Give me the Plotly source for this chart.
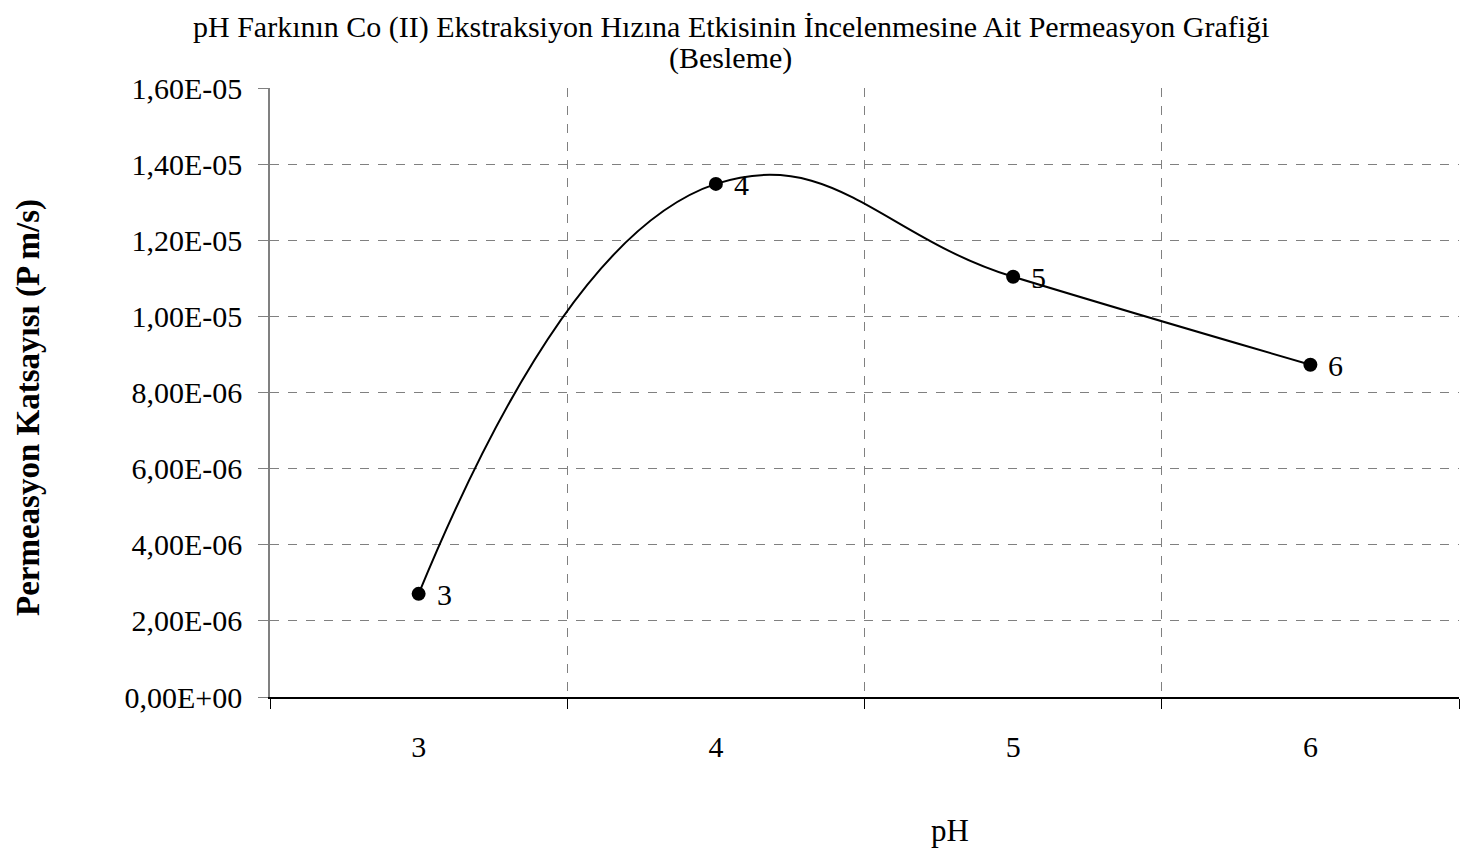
import plotly.graph_objects as go

ph_categories = ["3", "4", "5", "6"]
permeation = [2.71e-6, 1.348e-5, 1.104e-5, 8.73e-6]
point_labels = ["3", "4", "5", "6"]
y_tick_vals = [0, 2e-6, 4e-6, 6e-6, 8e-6, 1e-5, 1.2e-5, 1.4e-5, 1.6e-5]
y_tick_text = ["0,00E+00", "2,00E-06", "4,00E-06", "6,00E-06", "8,00E-06",
               "1,00E-05", "1,20E-05", "1,40E-05", "1,60E-05"]

title_line1 = "pH Farkının Co (II) Ekstraksiyon Hızına Etkisinin İncelenmesine Ait Permeasyon Grafiği"
title_line2 = "(Besleme)"
font_family = "Liberation Serif, Times New Roman, serif"

W, H = 1461, 855
ML, MR, MT, MB = 270, 2, 88, 158
PW = W - ML - MR
PH = H - MT - MB


def px_x(x):
    return (x - ML) / PW


def px_y(y):
    return (H - MB - y) / PH


fig = go.Figure()
fig.add_trace(go.Scatter(
    x=ph_categories, y=permeation,
    mode="lines+markers",
    line=dict(color="black", width=2, shape="spline", smoothing=1.3),
    marker=dict(color="black", size=14),
    cliponaxis=False,
    showlegend=False,
))

annotations = [
    dict(text=title_line1, x=px_x(W / 2), xref="paper", y=px_y(27), yref="paper",
         xanchor="center", yanchor="middle", showarrow=False, font=dict(size=30)),
    dict(text=title_line2, x=px_x(W / 2), xref="paper", y=px_y(58), yref="paper",
         xanchor="center", yanchor="middle", showarrow=False, font=dict(size=30)),
    dict(text="pH", x=px_x(950), xref="paper", y=px_y(830), yref="paper",
         xanchor="center", yanchor="middle", showarrow=False, font=dict(size=31)),
    dict(text="<b>Permeasyon Katsayısı (P m/s)</b>", textangle=-90,
         x=px_x(28), y=px_y(408), xref="paper", yref="paper",
         xanchor="center", yanchor="middle", showarrow=False, font=dict(size=33)),
]
# data labels: category axes place annotations by category index
for idx, (val, lab) in enumerate(zip(permeation, point_labels)):
    annotations.append(dict(text=lab, x=idx, y=val, xref="x", yref="y",
                            xanchor="left", yanchor="middle", xshift=16, yshift=-1,
                            showarrow=False, font=dict(size=30)))

fig.update_layout(
    width=W, height=H,
    paper_bgcolor="white", plot_bgcolor="white",
    margin=dict(l=ML, r=MR, t=MT, b=MB),
    font=dict(family=font_family, color="black", size=30),
    xaxis=dict(
        type="category", range=[-0.5, 3.5], tickson="boundaries",
        ticks="outside", ticklen=10, tickcolor="black", tickwidth=1,
        showline=True, linecolor="black", linewidth=1.5,
        showgrid=True, gridcolor="#808080", griddash="dash", gridwidth=1,
        tickfont=dict(size=30), zeroline=False, ticklabelstandoff=22,
    ),
    yaxis=dict(
        range=[0, 1.6e-5], tickvals=y_tick_vals, ticktext=y_tick_text,
        ticks="outside", ticklen=10, tickcolor="#808080",
        showline=True, linecolor="#808080", linewidth=1.5,
        showgrid=True, gridcolor="#808080", griddash="dash", gridwidth=1,
        zeroline=False, tickfont=dict(size=30), ticklabelstandoff=10,
    ),
    annotations=annotations,
)

fig.write_html("out.html", config={"displayModeBar": False},
               post_script="document.body.style.margin='0';document.body.style.overflow='hidden';")
